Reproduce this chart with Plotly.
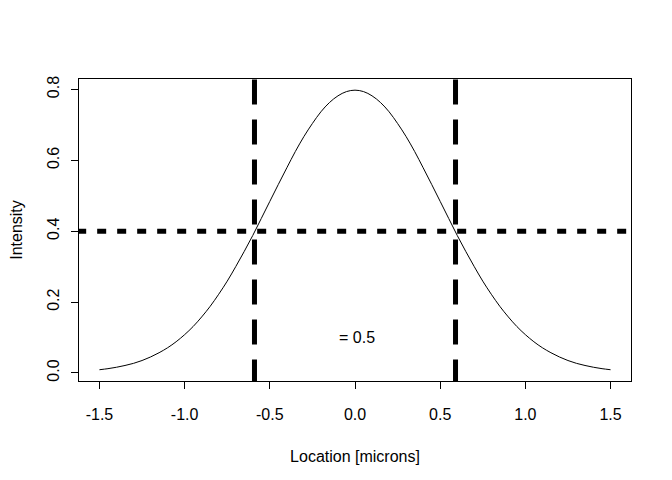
import plotly.graph_objects as go

# Gaussian intensity profile
location = [-1.5, -1.45, -1.4, -1.35, -1.3, -1.25, -1.2, -1.15, -1.1, -1.05,
            -1.0, -0.95, -0.9, -0.85, -0.8, -0.75, -0.7, -0.65, -0.6, -0.55,
            -0.5, -0.45, -0.4, -0.35, -0.3, -0.25, -0.2, -0.15, -0.1, -0.05,
            0.0, 0.05, 0.1, 0.15, 0.2, 0.25, 0.3, 0.35, 0.4, 0.45,
            0.5, 0.55, 0.6, 0.65, 0.7, 0.75, 0.8, 0.85, 0.9, 0.95,
            1.0, 1.05, 1.1, 1.15, 1.2, 1.25, 1.3, 1.35, 1.4, 1.45, 1.5]
intensity = [0.009, 0.012, 0.016, 0.021, 0.027, 0.035, 0.045, 0.057, 0.071, 0.088,
             0.108, 0.131, 0.158, 0.188, 0.222, 0.259, 0.300, 0.343, 0.388, 0.436,
             0.484, 0.532, 0.579, 0.625, 0.667, 0.704, 0.737, 0.763, 0.782, 0.794,
             0.798, 0.794, 0.782, 0.763, 0.737, 0.704, 0.667, 0.625, 0.579, 0.532,
             0.484, 0.436, 0.388, 0.343, 0.300, 0.259, 0.222, 0.188, 0.158, 0.131,
             0.108, 0.088, 0.071, 0.057, 0.045, 0.035, 0.027, 0.021, 0.016, 0.012, 0.009]

half_max = 0.4
half_width = [-0.59, 0.59]
note_text = "= 0.5"
note_pos = (0.0, 0.1)

x_ticks = [-1.5, -1.0, -0.5, 0.0, 0.5, 1.0, 1.5]
x_ticklabels = ["-1.5", "-1.0", "-0.5", "0.0", "0.5", "1.0", "1.5"]
y_ticks = [0.0, 0.2, 0.4, 0.6, 0.8]
y_ticklabels = ["0.0", "0.2", "0.4", "0.6", "0.8"]

x_range = [-1.62, 1.62]
y_range = [-0.0228, 0.8295]

FONT = "Liberation Sans, Arial, Helvetica, sans-serif"

fig = go.Figure()
fig.add_trace(go.Scatter(x=location, y=intensity, mode="lines",
                         line=dict(color="black", width=1, shape="spline", smoothing=1.0),
                         showlegend=False, hoverinfo="skip"))

shapes = []
for xv in half_width:
    shapes.append(dict(type="line", xref="x", yref="y", x0=xv, x1=xv,
                       y0=-0.0324, y1=0.9,
                       line=dict(color="black", width=5, dash="25px,15px")))
shapes.append(dict(type="line", xref="x", yref="y", x0=-1.6307, x1=1.9,
                   y0=half_max, y1=half_max,
                   line=dict(color="black", width=5, dash="9px,11px")))

fig.update_layout(
    width=672, height=480,
    margin=dict(l=70.5, r=48.7, t=70.5, b=106.9, autoexpand=False),
    paper_bgcolor="white", plot_bgcolor="white",
    font=dict(family=FONT, size=16, color="black"),
    shapes=shapes,
    annotations=[dict(x=note_pos[0], y=note_pos[1], xref="x", yref="y",
                      text=note_text, showarrow=False, xshift=2,
                      font=dict(family=FONT, size=16, color="black"))],
    xaxis=dict(range=x_range, tickmode="array", tickvals=x_ticks, ticktext=x_ticklabels,
               showgrid=False, zeroline=False, showline=True, linecolor="black",
               linewidth=1, mirror=True, ticks="outside", ticklen=7, tickwidth=1,
               tickcolor="black", ticklabelstandoff=12, automargin=False,
               title=dict(text="Location [microns]", standoff=28,
                          font=dict(family=FONT, size=16))),
    yaxis=dict(range=y_range, tickmode="array", tickvals=y_ticks, ticktext=y_ticklabels,
               showgrid=False, zeroline=False, showline=True, linecolor="black",
               linewidth=1, mirror=True, ticks="outside", ticklen=7, tickwidth=1,
               tickcolor="black", tickangle=-90, ticklabelstandoff=6, automargin=False,
               title=dict(text="Intensity", standoff=18,
                          font=dict(family=FONT, size=16))),
)

fig.write_html("out.html")
